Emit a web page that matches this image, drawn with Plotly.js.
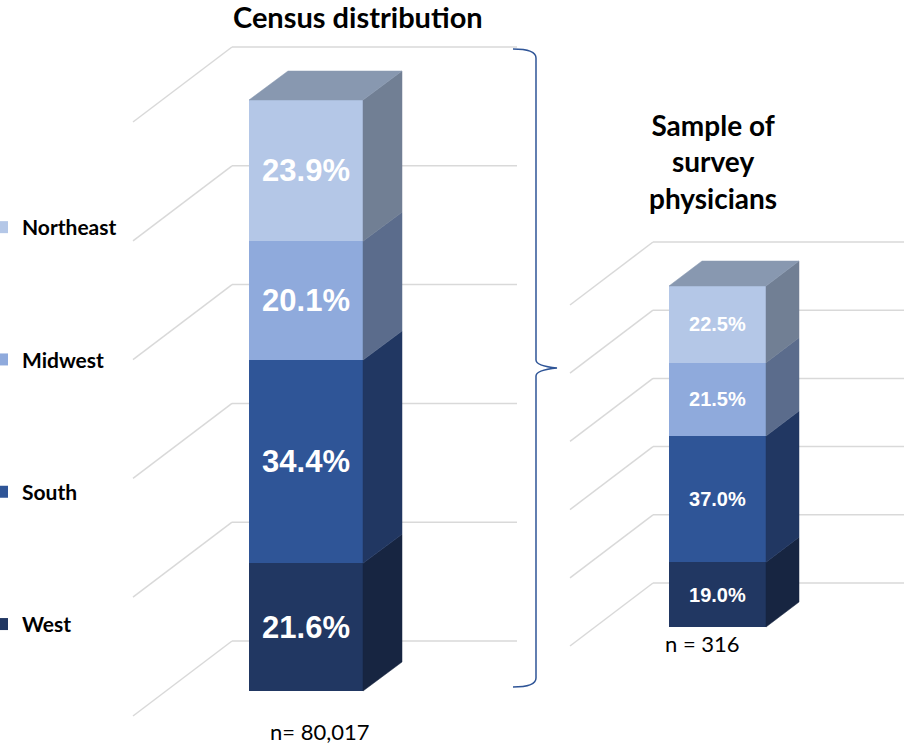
<!DOCTYPE html>
<html>
<head>
<meta charset="utf-8">
<script src="https://cdn.plot.ly/plotly-3.0.1.min.js"></script>
<style>html,body{margin:0;padding:0;background:#fff;}#chart{width:904px;height:744px;}</style>
</head>
<body>
<div id="chart"></div>
<script>
// ---------- DATA ----------
const regions = ['West', 'South', 'Midwest', 'Northeast'];      // bottom to top
const censusValues = [21.6, 34.4, 20.1, 23.9];
const sampleValues = [19.0, 37.0, 21.5, 22.5];
const gridTicks = [0, 20, 40, 60, 80, 100];
const panelTitles = ['Census distribution', 'Sample of<br>survey<br>physicians'];
const sampleSizes = ['n= 80,017', 'n = 316'];

// ---------- STYLE ----------
const W = 904, H = 744;
const frontColors = ['#213762', '#2F5597', '#8FAADC', '#B4C7E7'];
const sideColors  = ['#172541', '#213762', '#5B6C8C', '#717F94'];
const topColor = '#8898B0';
const gridColor = '#D9D9D9';

// panel geometry in pixels
const panels = [
  {xa: 'x', ya: 'y', dom: [0, 542], barLeft: 249, barRight: 363, y0: 691, y100: 100,
   depthX: 39, depthY: 29, wallLeft: 232, wallRight: 517, wallY0: 641, wallY100: 47,
   floorX: 133, floorDY: 75, textSize: 31, values: censusValues, legend: true,
   title: {x: 358, y: 17}, n: {x: 319, y: 731}},
  {xa: 'x2', ya: 'y2', dom: [542, 904], barLeft: 669, barRight: 766, y0: 627, y100: 286,
   depthX: 33, depthY: 25, wallLeft: 653, wallRight: 920, wallY0: 583, wallY100: 242,
   floorX: 570, floorDY: 63, textSize: 20, values: sampleValues, legend: false,
   title: {x: 713, y: 161}, n: {x: 702, y: 643}}
];

const traces = [];
const shapes = [];
const annotations = [];
const layout = {
  width: W, height: H,
  margin: {l: 0, r: 0, t: 0, b: 0, autoexpand: false},
  paper_bgcolor: '#ffffff', plot_bgcolor: 'rgba(0,0,0,0)',
  barmode: 'stack', showlegend: true,
  legend: {x: -18 / W, y: 1 - 207 / H, xanchor: 'left', yanchor: 'top',
           traceorder: 'grouped', tracegroupgap: 102,
           font: {family: 'Lato, "Open Sans", sans-serif', size: 21, color: '#000', weight: 'bold'},
           bgcolor: 'rgba(0,0,0,0)'},
  shapes: shapes, annotations: annotations
};

panels.forEach((p, pi) => {
  const cx = (p.barLeft + p.barRight) / 2;
  const ux = 1 / (p.barRight - p.barLeft);          // data units per px (x)
  const uy = 100 / (p.y0 - p.y100);                 // % per px (y)
  const px2x = px => (px - cx) * ux;
  const py2y = py => (p.y0 - py) * uy;
  const axName = pi === 0 ? 'xaxis' : 'xaxis2';
  const ayName = pi === 0 ? 'yaxis' : 'yaxis2';
  layout[axName] = {domain: [p.dom[0] / W, p.dom[1] / W], range: [px2x(p.dom[0]), px2x(p.dom[1])],
                    visible: false, fixedrange: true, anchor: p.ya};
  layout[ayName] = {domain: [0, 1], range: [py2y(H), py2y(0)], visible: false,
                    fixedrange: true, anchor: p.xa};

  // back wall and side wall gridlines from tick values
  gridTicks.forEach(v => {
    const wy = p.wallY0 - v / 100 * (p.wallY0 - p.wallY100);
    shapes.push({type: 'line', xref: p.xa, yref: p.ya, layer: 'below',
      x0: px2x(p.wallLeft), x1: px2x(p.wallRight), y0: py2y(wy), y1: py2y(wy),
      line: {color: gridColor, width: 1.5}});
    shapes.push({type: 'line', xref: p.xa, yref: p.ya, layer: 'below',
      x0: px2x(p.wallLeft), x1: px2x(p.floorX), y0: py2y(wy), y1: py2y(wy + p.floorDY),
      line: {color: gridColor, width: 1.5}});
  });

  const dx = p.depthX * ux, dy = p.depthY * uy;
  const xl = -0.5, xr = 0.5;
  let base = 0;
  p.values.forEach((v, i) => {
    // front face
    traces.push({type: 'bar', x: [0], y: [v], width: [1], xaxis: p.xa, yaxis: p.ya,
      name: regions[i], legendgroup: regions[i], legendrank: regions.length - i,
      showlegend: p.legend,
      marker: {color: frontColors[i], line: {width: 0}},
      text: [v.toFixed(1) + '%'], textposition: 'inside', insidetextanchor: 'middle',
      textangle: 0, constraintext: 'none',
      textfont: {family: '"Liberation Sans", Arial, sans-serif', size: p.textSize, color: '#ffffff', weight: 'bold'},
      hoverinfo: 'skip'});
    // side face
    const t = base + v;
    traces.push({type: 'scatter', mode: 'lines', xaxis: p.xa, yaxis: p.ya,
      x: [xr, xr + dx, xr + dx, xr, xr], y: [base, base + dy, t + dy, t, base],
      fill: 'toself', fillcolor: sideColors[i], line: {width: 0.5, color: sideColors[i]},
      showlegend: false, hoverinfo: 'skip', legendgroup: regions[i], legendrank: regions.length - i});
    base = t;
  });
  // top face
  traces.push({type: 'scatter', mode: 'lines', xaxis: p.xa, yaxis: p.ya,
    x: [xl, xl + dx, xr + dx, xr, xl], y: [base, base + dy, base + dy, base, base],
    fill: 'toself', fillcolor: topColor, line: {width: 0.5, color: topColor},
    showlegend: false, hoverinfo: 'skip', legendgroup: 'Northeast', legendrank: 1});

  annotations.push({xref: 'paper', yref: 'paper', x: p.title.x / W, y: 1 - p.title.y / H,
    xanchor: 'center', yanchor: 'middle', showarrow: false, text: '<b>' + panelTitles[pi] + '</b>',
    font: {family: 'Lato, "Open Sans", sans-serif', size: pi === 0 ? 29 : 28, color: '#000'}});
  annotations.push({xref: 'paper', yref: 'paper', x: p.n.x / W, y: 1 - p.n.y / H,
    xanchor: 'center', yanchor: 'middle', showarrow: false, text: sampleSizes[pi],
    font: {family: 'Lato, "Open Sans", sans-serif', size: 22, color: '#000'}});
});

// curly brace linking the two panels
const P = (x, y) => (x / W).toFixed(5) + ',' + (1 - y / H).toFixed(5);
const bracePath = 'M' + P(513, 49) + ' Q' + P(536, 49) + ' ' + P(536, 58) +
  ' L' + P(536, 360) + ' Q' + P(536, 366) + ' ' + P(557, 368) +
  ' Q' + P(536, 370) + ' ' + P(536, 376) +
  ' L' + P(536, 678) + ' Q' + P(536, 687) + ' ' + P(513, 687);
shapes.push({type: 'path', xref: 'paper', yref: 'paper', path: bracePath,
  line: {color: '#2F5597', width: 1.5}});

Plotly.newPlot('chart', traces, layout, {displayModeBar: false, staticPlot: true});
</script>
</body>
</html>
